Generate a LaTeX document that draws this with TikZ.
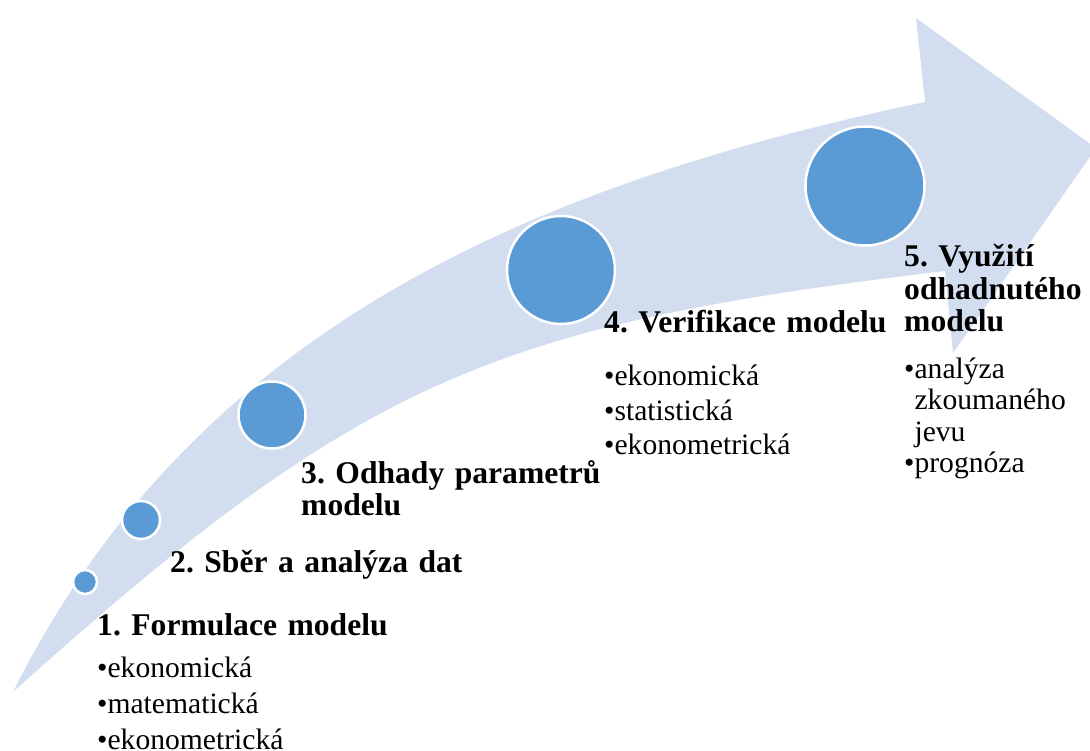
\documentclass[tikz,border=0pt]{standalone}
\usepackage{fontspec}
\setmainfont{Liberation Serif}
\frenchspacing
\definecolor{bandblue}{RGB}{210,222,239}
\definecolor{dotblue}{RGB}{91,155,213}
\newcommand\stageheadfont{\fontsize{31.6}{32.5}\selectfont\bfseries\spaceskip=0.25em\relax}
\tikzset{
  stage/.style={circle,fill=dotblue,draw=white,line width=2.5pt,inner sep=0pt},
  stagehead/.style={anchor=base west,inner sep=0pt,text width=#1,align=left,
    font=\stageheadfont},
  stagelist/.style={anchor=base west,inner sep=0pt,text width=300pt,align=left,
    font=\fontsize{29.6}{#1}\selectfont}
}

\begin{document}
\begin{tikzpicture}[x=1pt,y=-1pt]
  \clip (0,0) rectangle (1090,751);
  \fill[bandblue] (13,692) .. controls (193,332) and (525,186) .. (925,102)
    -- (916,18) -- (1096,148) -- (953,353) -- (945,271)
    .. controls (495,325) and (363,377) .. (13,692) -- cycle;
  \node[stage,minimum size=24pt] (c1) at (85,582) {};
  \node[stage,minimum size=38pt] (c2) at (141,520) {};
  \node[stage,minimum size=67pt] (c3) at (272,415) {};
  \node[stage,minimum size=108pt] (c4) at (561,270) {};
  \node[stage,minimum size=119pt] (c5) at (865,186) {};
  \node[stagehead=400pt] (h1) at (97,635) {1. Formulace modelu};
  \node[stagelist=36] (l1) at (97,677) {•ekonomická\\•matematická\\•ekonometrická};
  \node[stagehead=400pt] (h2) at (170,572) {2. Sběr a analýza dat};
  \node[stagehead=400pt] (h3) at (301,483) {3. Odhady parametrů\\modelu};
  \node[stagehead=400pt] (h4) at (604,333) {4. Verifikace modelu};
  \node[stagelist=35] (l4) at (604,385) {•ekonomická\\•statistická\\•ekonometrická};
  \node[stagehead=200pt] (h5) at (904,267) {5. Využití\\odhadnutého\\modelu};
  \node[stagelist=31.5] (l5) at (904,378) {•analýza\\\phantom{•}zkoumaného\\\phantom{•}jevu\\•prognóza};
\end{tikzpicture}
\end{document}
